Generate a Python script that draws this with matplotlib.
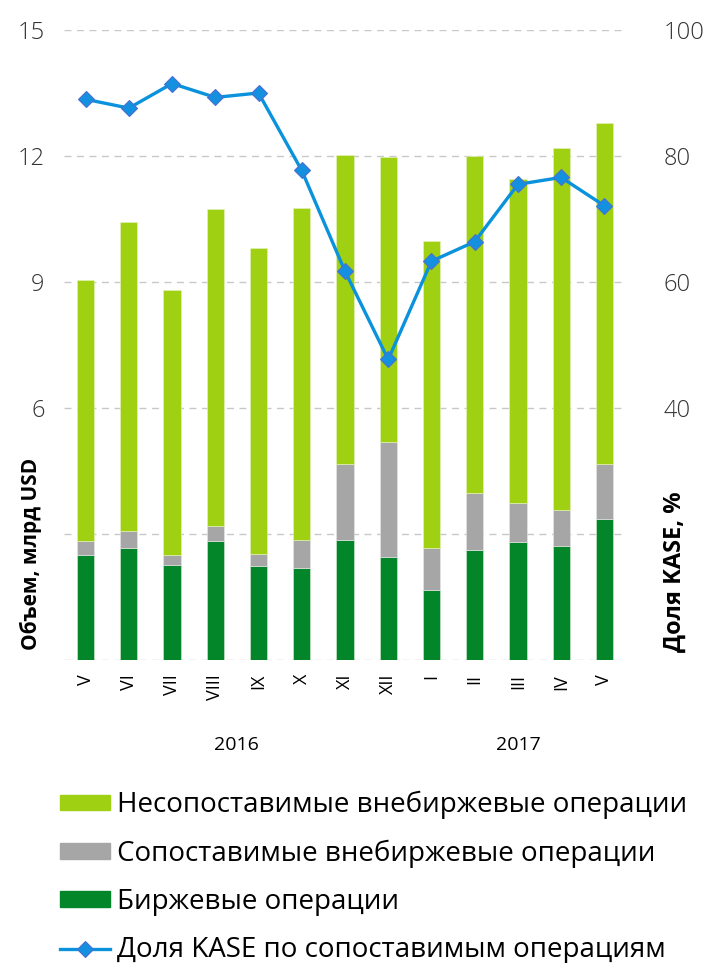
import matplotlib
matplotlib.use("Agg")
import matplotlib.pyplot as plt
from matplotlib.patches import Patch
from matplotlib.lines import Line2D

months = ["V", "VI", "VII", "VIII", "IX", "X", "XI", "XII", "I", "II", "III", "IV", "V"]
years = ["2016", "2017"]
exchange = [2.51, 2.67, 2.27, 2.84, 2.25, 2.20, 2.86, 2.46, 1.67, 2.63, 2.80, 2.71, 3.36]
comparable_otc = [0.32, 0.40, 0.22, 0.36, 0.27, 0.65, 1.81, 2.72, 0.99, 1.34, 0.93, 0.85, 1.31]
total = [9.05, 10.42, 8.82, 10.74, 9.80, 10.77, 12.03, 11.98, 9.98, 12.01, 11.46, 12.18, 12.79]
kase_share = [89.0, 87.6, 91.5, 89.3, 90.0, 77.7, 61.7, 47.7, 63.3, 66.4, 75.5, 76.6, 72.1]
left_ticks = [0, 3, 6, 9, 12, 15]
left_labels = ["", "", "6", "9", "12", "15"]
right_ticks = [0, 20, 40, 60, 80, 100]
right_labels = ["", "", "40", "60", "80", "100"]
legend_labels = ["Несопоставимые внебиржевые операции",
                 "Сопоставимые внебиржевые операции",
                 "Биржевые операции",
                 "Доля KASE по сопоставимым операциям"]

C_LIGHT = "#9FD012"
C_GRAY = "#A6A6A6"
C_DARK = "#038529"
C_LINE = "#0A92DC"

FONT = ["Open Sans", "DejaVu Sans"]
plt.rcParams['font.family'] = FONT

fig = plt.figure(figsize=(7.04, 9.63), dpi=100)
ax = fig.add_axes([64/704, 1-660/963, (626-64)/704, (660-30)/963])

x = list(range(len(months)))
non_comp = [t - e - c for t, e, c in zip(total, exchange, comparable_otc)]
bottom2 = [e + c for e, c in zip(exchange, comparable_otc)]
w = 0.4
ax.bar(x, exchange, width=w, color=C_DARK, edgecolor="#d8ecd8", linewidth=0.4, zorder=2)
ax.bar(x, comparable_otc, width=w, bottom=exchange, color=C_GRAY, edgecolor="#e8e8e8", linewidth=0.4, zorder=2)
ax.bar(x, non_comp, width=w, bottom=bottom2, color=C_LIGHT, edgecolor="#e6f3c0", linewidth=0.4, zorder=2)

ax.set_xlim(-0.5, len(months) - 0.5)
ax.set_ylim(0, 15)
ax.set_yticks(left_ticks)
ax.set_yticklabels(left_labels)
ax.yaxis.grid(True, linestyle=(0, (5, 4)), color="#C8C8C8", linewidth=1.0, zorder=0)
ax.set_axisbelow(True)
for s in ax.spines.values():
    s.set_visible(False)
ax.tick_params(axis='y', length=0, pad=14, labelsize=17, labelcolor="#333333")
ax.set_xticks(x)
ax.set_xticklabels(months, rotation=90, fontsize=13)
ax.tick_params(axis='x', length=0, pad=10)
for lab in ax.get_yticklabels():
    lab.set_fontweight('light')

ax2 = ax.twinx()
ax2.set_ylim(0, 100)
ax2.set_yticks(right_ticks)
ax2.set_yticklabels(right_labels)
for s in ax2.spines.values():
    s.set_visible(False)
ax2.tick_params(axis='y', length=0, pad=27, labelsize=17, labelcolor="#333333")
for lab in ax2.get_yticklabels():
    lab.set_fontweight('light')
ax2.plot(x, kase_share, color=C_LINE, linewidth=2.4, marker='D', markersize=8,
         markerfacecolor="#1390E0", markeredgecolor="#4A6FD0", markeredgewidth=0.8, zorder=5)

# year labels
ax.text(3.5, -0.135, years[0], transform=ax.get_xaxis_transform(), ha='center', va='center', fontsize=14)
ax.text(10.0, -0.135, years[1], transform=ax.get_xaxis_transform(), ha='center', va='center', fontsize=14)

# axis titles
fig.text(31/704, 1-650/963, "Объем, млрд USD", rotation=90, ha='center', va='bottom',
         fontsize=15, fontweight='bold')
fig.text(675/704, 1-652/963, "Доля KASE, %", rotation=90, ha='center', va='bottom',
         fontsize=17, fontweight='bold')

handles = [Patch(color=C_LIGHT), Patch(color=C_GRAY), Patch(color=C_DARK),
           Line2D([0], [0], color=C_LINE, linewidth=2.4, marker='D', markersize=8,
                  markerfacecolor="#1390E0", markeredgecolor="#4A6FD0", markeredgewidth=0.8)]
fig.legend(handles, legend_labels, loc='upper left', bbox_to_anchor=(60/704, 1-791/963),
           frameon=False, fontsize=20, handlelength=1.8, handleheight=0.5, handletextpad=0.25,
           labelspacing=0.73, borderpad=0, borderaxespad=0)

fig.savefig("out.png", dpi=100)
